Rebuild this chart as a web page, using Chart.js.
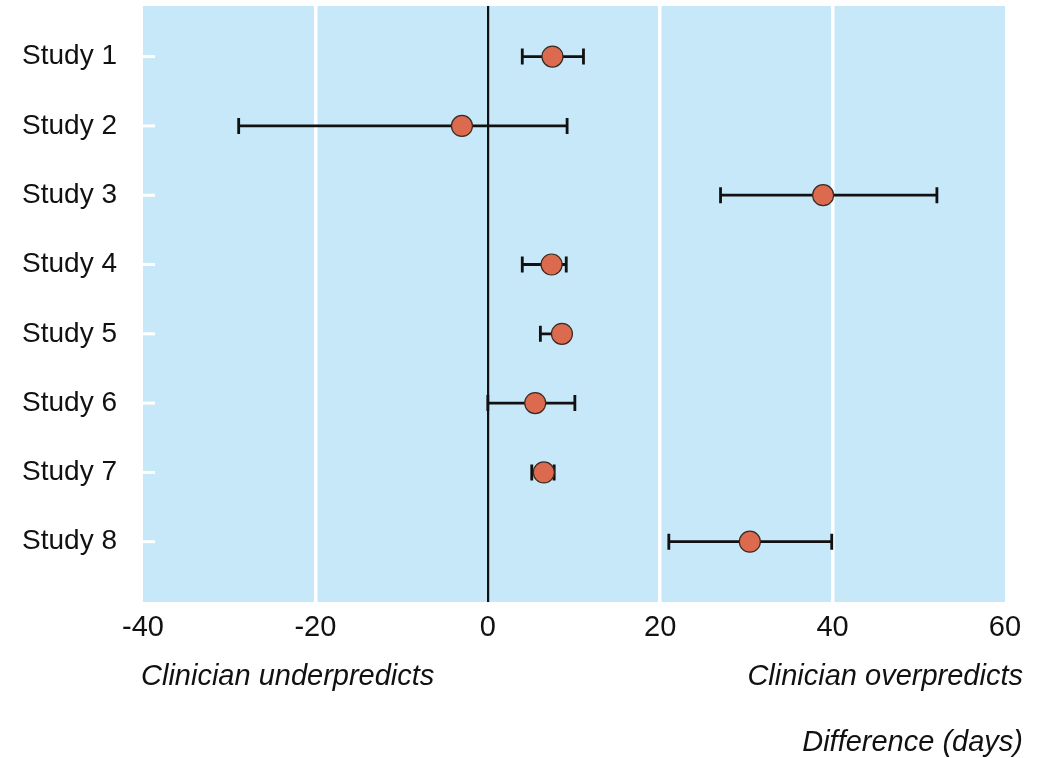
<!DOCTYPE html>
<html>
<head>
<meta charset="utf-8">
<script src="https://cdn.jsdelivr.net/npm/chart.js@4"></script>
<style>
  body { margin: 0; background: #fff; }
  #wrap { width: 1043px; height: 758px; }
</style>
</head>
<body>
<div id="wrap"><canvas id="forest"></canvas></div>
<script>
// values (days)
const studies = ['Study 1', 'Study 2', 'Study 3', 'Study 4', 'Study 5', 'Study 6', 'Study 7', 'Study 8'];
const estimate = [7.5, -3.0, 38.9, 7.4, 8.6, 5.5, 6.5, 30.4];
const lower = [4.0, -28.9, 27.0, 4.0, 6.1, 0.0, 5.1, 21.0];
const upper = [11.1, 9.2, 52.1, 9.1, 9.3, 10.1, 7.7, 39.9];
const xTicks = [-40, -20, 0, 20, 40, 60];

const FONT = '"Liberation Sans", Arial, sans-serif';

const points = estimate.map((v, i) => ({ x: v, y: i + 1 }));

// light blue panel behind the plot
const panelBg = {
    id: 'panelBg',
    beforeDraw(chart) {
        const a = chart.chartArea, ctx = chart.ctx;
        ctx.save();
        ctx.fillStyle = '#c6e8f8';
        ctx.fillRect(a.left, a.top, a.right - a.left, a.bottom - a.top);
        ctx.restore();
    }
};

// white tick marks inside the panel + horizontal error bars
const forestBits = {
    id: 'forestBits',
    beforeDatasetsDraw(chart) {
        const ctx = chart.ctx, xs = chart.scales.x, ys = chart.scales.y;
        const a = chart.chartArea;
        ctx.save();
        ctx.strokeStyle = '#ffffff';
        ctx.lineWidth = 3;
        studies.forEach((s, i) => {
            const y = ys.getPixelForValue(i + 1);
            ctx.beginPath();
            ctx.moveTo(a.left, y);
            ctx.lineTo(a.left + 12, y);
            ctx.stroke();
        });
        ctx.strokeStyle = '#111111';
        ctx.lineWidth = 2.8;
        studies.forEach((s, i) => {
            const y = ys.getPixelForValue(i + 1);
            const x0 = xs.getPixelForValue(lower[i]);
            const x1 = xs.getPixelForValue(upper[i]);
            ctx.beginPath();
            ctx.moveTo(x0, y); ctx.lineTo(x1, y);
            ctx.moveTo(x0, y - 8); ctx.lineTo(x0, y + 8);
            ctx.moveTo(x1, y - 8); ctx.lineTo(x1, y + 8);
            ctx.stroke();
        });
        ctx.restore();
    },
    afterDraw(chart) {
        const ctx = chart.ctx, a = chart.chartArea;
        ctx.save();
        ctx.fillStyle = '#111111';
        ctx.font = 'italic 29px ' + FONT;
        ctx.textBaseline = 'alphabetic';
        ctx.textAlign = 'left';
        ctx.fillText('Clinician underpredicts', a.left - 2, 685);
        ctx.textAlign = 'right';
        ctx.fillText('Clinician overpredicts', chart.width - 20, 685);
        ctx.fillText('Difference (days)', chart.width - 20, 751);
        ctx.restore();
    }
};

new Chart(document.getElementById('forest'), {
    type: 'scatter',
    data: {
        datasets: [{
            data: points,
            pointRadius: 10.5,
            pointHoverRadius: 10.5,
            pointBackgroundColor: '#dc6a4f',
            pointBorderColor: '#3b2a22',
            pointBorderWidth: 1.2
        }]
    },
    plugins: [panelBg, forestBits],
    options: {
        responsive: true,
        maintainAspectRatio: false,
        animation: false,
        layout: { autoPadding: false, padding: { top: 6, right: 38, left: 0, bottom: 0 } },
        plugins: { legend: { display: false }, tooltip: { enabled: false } },
        scales: {
            x: {
                type: 'linear',
                min: -40,
                max: 60,
                afterBuildTicks: axis => { axis.ticks = xTicks.map(v => ({ value: v })); },
                afterFit: axis => {
                    axis.height = 156;
                    axis.paddingLeft = 0;
                    axis.paddingRight = 0;
                },
                border: { display: false },
                grid: {
                    drawTicks: false,
                    color: c => c.tick && c.tick.value === 0 ? '#111111'
                        : (c.tick && (c.tick.value === -40 || c.tick.value === 60) ? 'rgba(0,0,0,0)' : '#ffffff'),
                    lineWidth: c => c.tick && c.tick.value === 0 ? 2.2 : 3.5
                },
                ticks: {
                    padding: 11,
                    color: '#111111',
                    font: { family: FONT, size: 29, lineHeight: 1 }
                }
            },
            y: {
                type: 'linear',
                reverse: true,
                min: 0.27,
                max: 8.87,
                afterBuildTicks: axis => { axis.ticks = studies.map((s, i) => ({ value: i + 1 })); },
                afterFit: axis => {
                    axis.width = 143;
                    axis.paddingTop = 0;
                    axis.paddingBottom = 0;
                },
                border: { display: false },
                grid: { display: false, drawTicks: false },
                ticks: {
                    padding: 26,
                    color: '#111111',
                    font: { family: FONT, size: 28 },
                    callback: v => studies[Math.round(v) - 1]
                }
            }
        }
    }
});
</script>
</body>
</html>
